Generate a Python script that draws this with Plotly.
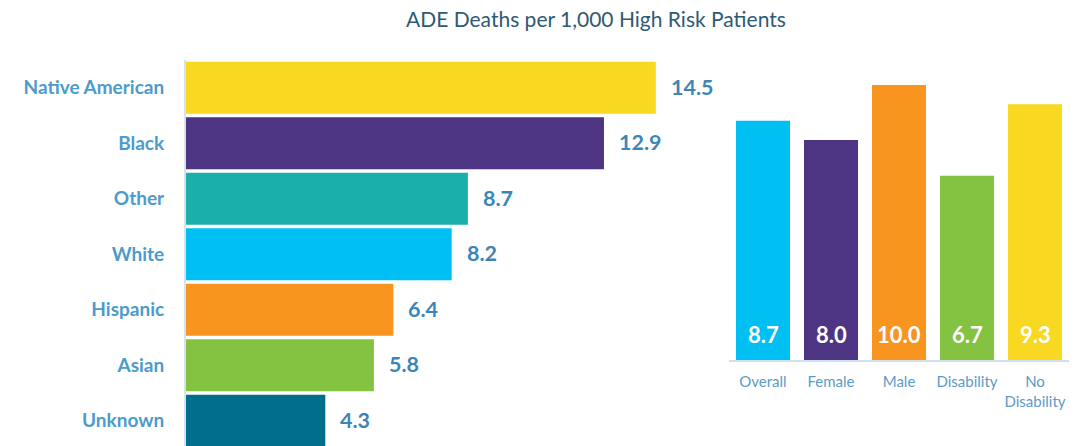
import plotly.graph_objects as go

race_categories = ["Native American", "Black", "Other", "White", "Hispanic", "Asian", "Unknown"]
race_values = [14.5, 12.9, 8.7, 8.2, 6.4, 5.8, 4.3]
race_colors = ["#f9d821", "#4d3584", "#1aafa9", "#00bff3", "#f7951f", "#84c341", "#006f8e"]

group_categories = ["Overall", "Female", "Male", "Disability", "No Disability"]
group_tick_labels = ["Overall", "Female", "Male", "Disability", "No<br>Disability"]
group_values = [8.7, 8.0, 10.0, 6.7, 9.3]
group_colors = ["#00bff3", "#4d3584", "#f7951f", "#84c341", "#f9d821"]

title_text = "ADE Deaths per 1,000 High Risk Patients"

FONT = "Lato"
W, H = 1083, 446

fig = go.Figure()

fig.add_trace(go.Bar(
    x=race_values, y=race_categories, orientation="h",
    marker=dict(color=race_colors, line=dict(width=0)),
    xaxis="x", yaxis="y", hoverinfo="x+y",
))

fig.add_trace(go.Bar(
    x=group_categories, y=group_values,
    marker=dict(color=group_colors, line=dict(width=0)),
    xaxis="x2", yaxis="y2", hoverinfo="x+y", width=54 / 68,
))

annotations = []
for cat, v in zip(race_categories, race_values):
    annotations.append(dict(
        x=v, y=cat, xref="x", yref="y", text=f"<b>{v:.1f}</b>",
        showarrow=False, xanchor="left", yanchor="middle", xshift=13, yshift=1,
        font=dict(family=FONT, size=21.5, color="#3c86b7"),
    ))
for cat, v in zip(group_categories, group_values):
    annotations.append(dict(
        x=cat, y=0, xref="x2", yref="y2", text=f"<b>{v:.1f}</b>",
        showarrow=False, xanchor="center", yanchor="bottom", yshift=10,
        font=dict(family=FONT, size=22, color="#ffffff"),
    ))
annotations.append(dict(
    x=596 / W, y=1 - 18 / H, xref="paper", yref="paper", text=title_text,
    showarrow=False, xanchor="center", yanchor="middle",
    font=dict(family=FONT, size=21, color="#2e5a74"),
))

fig.update_layout(
    width=W, height=H,
    margin=dict(l=0, r=0, t=0, b=0, autoexpand=False),
    paper_bgcolor="white", plot_bgcolor="white",
    showlegend=False,
    bargap=0.06,
    annotations=annotations,
    xaxis=dict(domain=[186 / W, 700 / W], range=[0, 514 / 32.4],
               visible=False, fixedrange=True, automargin=False),
    yaxis=dict(domain=[0, (H - 60) / H], categoryorder="array",
               categoryarray=race_categories,
               range=[(446 - 60) / 55.5 - 0.5, -0.5],
               showline=True, linecolor="#d7e2ec", linewidth=2,
               showgrid=False, zeroline=False, ticks="", automargin=False,
               ticklabelstandoff=16,
               tickfont=dict(family=FONT, size=19, color="#4b9bcc", weight="bold")),
    xaxis2=dict(domain=[729 / W, 1069 / W], anchor="y2", range=[-0.5, 4.5],
                tickmode="array", tickvals=group_categories, ticktext=group_tick_labels,
                showline=True, linecolor="#cfe0ee", linewidth=2,
                showgrid=False, zeroline=False, automargin=False,
                ticks="", tickfont=dict(family=FONT, size=15, color="#5b9bc8"),
                ticklabelstandoff=7),
    yaxis2=dict(domain=[(H - 360) / H, (H - 60) / H], anchor="x2",
                range=[0, 300 / 27.5], visible=False, automargin=False),
)

# tick marks at category boundaries for the right chart
for b in [-0.5, 0.5, 1.5, 2.5, 3.5, 4.5]:
    fig.add_shape(type="line", xref="x2", yref="y2", x0=b, x1=b, y0=0, y1=-6 / 27.5,
                  line=dict(color="#cfe0ee", width=2))

fig.write_html("out.html",
               config={"displayModeBar": False},
               post_script="document.body.style.margin='0';document.body.style.overflow='hidden';")
